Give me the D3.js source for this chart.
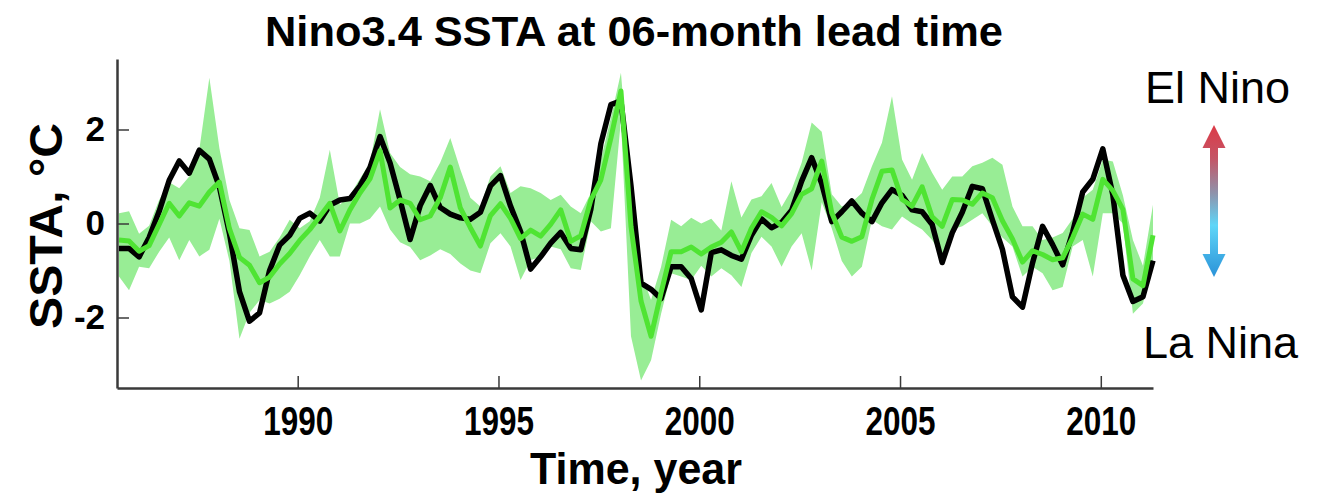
<!DOCTYPE html>
<html>
<head>
<meta charset="utf-8">
<script src="https://cdn.jsdelivr.net/npm/d3@7"></script>
<style>
  body { margin: 0; background: #fff; }
  svg { display: block; }
</style>
</head>
<body>
<svg id="chart" width="1324" height="500"></svg>
<script>
// Quarterly time stamps (decimal years)
const years = [
  1985.55, 1985.80, 1986.05, 1986.30, 1986.55, 1986.80, 1987.05, 1987.30,
  1987.55, 1987.80, 1988.05, 1988.30, 1988.55, 1988.80, 1989.05, 1989.30,
  1989.55, 1989.80, 1990.05, 1990.30, 1990.55, 1990.80, 1991.05, 1991.30,
  1991.55, 1991.80, 1992.05, 1992.30, 1992.55, 1992.80, 1993.05, 1993.30,
  1993.55, 1993.80, 1994.05, 1994.30, 1994.55, 1994.80, 1995.05, 1995.30,
  1995.55, 1995.80, 1996.05, 1996.30, 1996.55, 1996.80, 1997.05, 1997.30,
  1997.55, 1997.80, 1998.05, 1998.30, 1998.55, 1998.80, 1999.05, 1999.30,
  1999.55, 1999.80, 2000.05, 2000.30, 2000.55, 2000.80, 2001.05, 2001.30,
  2001.55, 2001.80, 2002.05, 2002.30, 2002.55, 2002.80, 2003.05, 2003.30,
  2003.55, 2003.80, 2004.05, 2004.30, 2004.55, 2004.80, 2005.05, 2005.30,
  2005.55, 2005.80, 2006.05, 2006.30, 2006.55, 2006.80, 2007.05, 2007.30,
  2007.55, 2007.80, 2008.05, 2008.30, 2008.55, 2008.80, 2009.05, 2009.30,
  2009.55, 2009.80, 2010.05, 2010.30, 2010.55, 2010.80, 2011.05, 2011.30
];

// Observed Nino3.4 SST anomaly (°C)
const observed = [
  -0.53, -0.53, -0.71, -0.30, 0.26, 0.92, 1.33, 1.07,
  1.56, 1.37, 0.78, -0.21, -1.45, -2.08, -1.90, -1.00,
  -0.46, -0.25, 0.11, 0.22, 0.05, 0.39, 0.50, 0.53,
  0.80, 1.19, 1.85, 1.29, 0.50, -0.34, 0.38, 0.81,
  0.34, 0.20, 0.12, 0.09, 0.24, 0.80, 1.02, 0.37,
  -0.17, -0.97, -0.71, -0.42, -0.19, -0.53, -0.56, 0.30,
  1.70, 2.53, 2.61, 0.80, -1.27, -1.40, -1.60, -0.92,
  -0.92, -1.17, -1.84, -0.62, -0.56, -0.68, -0.76, -0.25,
  0.10, -0.09, 0.02, 0.28, 0.90, 1.40, 0.85, 0.04,
  0.25, 0.48, 0.22, 0.04, 0.44, 0.72, 0.60, 0.29,
  0.25, -0.02, -0.83, -0.20, 0.24, 0.79, 0.74, 0.08,
  -0.55, -1.56, -1.78, -0.84, -0.06, -0.45, -0.88, -0.18,
  0.67, 0.94, 1.59, 0.61, -1.10, -1.66, -1.56, -0.79
];

// 6-month lead forecast: ensemble mean
const forecastMean = [
  -0.35, -0.37, -0.59, -0.47, -0.02, 0.43, 0.16, 0.44,
  0.37, 0.67, 0.88, -0.11, -0.72, -0.89, -1.26, -1.14,
  -0.86, -0.64, -0.36, -0.13, 0.15, 0.43, -0.16, 0.29,
  0.65, 0.95, 1.55, 0.33, 0.50, 0.43, 0.08, 0.16,
  0.55, 1.20, 0.33, -0.09, -0.48, 0.17, 0.42, 0.11,
  -0.32, -0.14, -0.27, -0.02, 0.29, -0.38, -0.26, 0.50,
  0.93, 1.82, 2.82, -0.06, -1.65, -2.40, -1.47, -0.60,
  -0.60, -0.50, -0.65, -0.50, -0.40, -0.18, -0.60, -0.10,
  0.25, 0.13, -0.05, 0.21, 0.62, 0.74, 1.33, 0.23,
  -0.29, -0.38, -0.28, 0.51, 1.11, 1.14, 0.51, 0.37,
  0.78, 0.14, -0.06, 0.51, 0.50, 0.41, 0.65, 0.55,
  0.06, -0.33, -0.82, -0.58, -0.66, -0.77, -0.73, -0.30,
  0.20, 0.09, 0.94, 0.70, 0.30, -1.18, -1.32, -0.25
];

// Ensemble spread: upper and lower envelope
const forecastUpper = [
  0.22, 0.26, -0.22, -0.05, 0.50, 0.88, 0.75, 1.00,
  1.57, 3.10, 1.60, 0.50, -0.10, -0.14, -0.70, -0.60,
  -0.30, 0.08, -0.10, 0.05, 0.55, 1.57, 0.40, 0.60,
  0.95, 1.30, 2.43, 1.50, 1.20, 1.05, 1.00, 0.90,
  1.30, 1.82, 1.15, 0.55, 0.36, 1.00, 1.22, 0.65,
  0.79, 0.75, 0.65, 0.50, 0.61, 0.36, 0.22, 0.65,
  1.36, 2.25, 3.21, 0.60, -1.06, -1.63, -0.92, 0.08,
  -0.06, 0.12, 0.00, 0.10, -0.15, 0.90, 0.13, 0.51,
  0.58, 0.86, 0.35, 0.72, 1.29, 2.15, 1.95, 0.62,
  0.36, 0.45, 0.65, 1.22, 1.72, 2.71, 1.36, 0.93,
  1.50, 1.08, 0.72, 1.00, 1.00, 1.22, 1.29, 1.40,
  1.25, 0.36, -0.06, -0.06, -0.35, -0.30, -0.20, 0.10,
  0.55, 0.72, 1.36, 1.32, 0.60, -0.35, -0.90, 0.40
];
const forecastLower = [
  -1.13, -1.42, -0.92, -0.95, -0.60, -0.30, -0.78, -0.35,
  -0.70, -0.56, 0.10, -0.80, -2.45, -1.90, -1.63, -1.70,
  -1.60, -1.45, -1.10, -0.70, -0.35, -0.70, -0.70, 0.00,
  0.00, 0.10, 0.36, -0.13, -0.40, -0.50, -0.78, -0.68,
  -0.55, -0.65, -0.85, -1.00, -1.06, -0.42, -0.21, -0.49,
  -1.20, -0.78, -0.70, -0.49, -0.55, -0.95, -0.99, 0.05,
  -0.17, -0.10, 2.20, -2.40, -3.34, -2.91, -1.92, -1.06,
  -1.13, -1.20, -0.90, -1.13, -0.95, -1.10, -1.35, -0.63,
  -0.28, -0.49, -0.92, -0.49, -0.21, -1.00, 0.45, -0.10,
  -0.80, -1.13, -0.92, 0.08, -0.06, -0.13, 0.15, 0.00,
  -0.13, -0.35, -0.70, -0.13, -0.06, 0.08, 0.22, -0.06,
  -0.30, -0.49, -1.13, -0.92, -1.06, -1.42, -1.35, -0.49,
  -0.35, -1.13, 0.22, 0.22, 0.00, -1.92, -1.70, -0.78
];

const yearTicks = [1990, 1995, 2000, 2005, 2010];
const sstaTicks = [-2, 0, 2];
const titleText = "Nino3.4 SSTA at 06-month lead time";
const xLabelText = "Time, year";
const yLabelText = "SSTA, \u00B0C";
const elNinoText = "El Nino";
const laNinaText = "La Nina";

const FONT = "'Liberation Sans', Arial, Helvetica, sans-serif";
const svg = d3.select("#chart");

const x = d3.scaleLinear().domain([1985.5, 2011.3]).range([117, 1153]);
const y = d3.scaleLinear().domain([-3.5, 3.5]).range([388, 59]);

const rows = years.map((t, i) => ({
  t, obs: observed[i], mean: forecastMean[i],
  hi: forecastUpper[i], lo: forecastLower[i]
}));

// Ensemble spread band
svg.append("path")
  .datum(rows)
  .attr("fill", "#98ed95")
  .attr("d", d3.area().x(d => x(d.t)).y0(d => y(d.lo)).y1(d => y(d.hi)));

// Observed series
svg.append("path")
  .datum(rows)
  .attr("fill", "none")
  .attr("stroke", "#000")
  .attr("stroke-width", 5.5)
  .attr("stroke-linejoin", "round")
  .attr("d", d3.line().x(d => x(d.t)).y(d => y(d.obs)));

// Forecast ensemble mean
svg.append("path")
  .datum(rows)
  .attr("fill", "none")
  .attr("stroke", "#4fe433")
  .attr("stroke-width", 5)
  .attr("stroke-linejoin", "round")
  .attr("d", d3.line().x(d => x(d.t)).y(d => y(d.mean)));

// Axes with inward ticks
const xAxis = svg.append("g")
  .attr("transform", `translate(0,${y.range()[0]})`)
  .call(d3.axisBottom(x).tickValues(yearTicks).tickFormat(d3.format("d"))
        .tickSizeInner(-12).tickSizeOuter(0).tickPadding(18));
const yAxis = svg.append("g")
  .attr("transform", `translate(${x.range()[0]},0)`)
  .call(d3.axisLeft(y).tickValues(sstaTicks).tickFormat(d3.format("d"))
        .tickSizeInner(-12).tickSizeOuter(0).tickPadding(12));

[xAxis, yAxis].forEach(g => {
  g.select(".domain").attr("stroke", "#3a3a3a").attr("stroke-width", 2.5);
  g.selectAll(".tick line").attr("stroke", "#3a3a3a").attr("stroke-width", 1.5);
  g.selectAll(".tick text")
    .attr("fill", "#000")
    .style("font-family", FONT)
    .style("font-weight", "bold");
});
xAxis.selectAll(".tick text")
  .style("font-size", "41px")
  .attr("textLength", 70).attr("lengthAdjust", "spacingAndGlyphs");
yAxis.selectAll(".tick text")
  .style("font-size", "35px")
  .text(d => d < 0 ? "-" + Math.abs(d) : d);

// Title and axis labels
svg.append("text")
  .attr("x", 634).attr("y", 46)
  .attr("text-anchor", "middle")
  .style("font-family", FONT).style("font-weight", "bold").style("font-size", "43px")
  .attr("textLength", 738).attr("lengthAdjust", "spacingAndGlyphs")
  .text(titleText);

svg.append("text")
  .attr("x", 636).attr("y", 484)
  .attr("text-anchor", "middle")
  .style("font-family", FONT).style("font-weight", "bold").style("font-size", "44px")
  .attr("textLength", 212).attr("lengthAdjust", "spacingAndGlyphs")
  .text(xLabelText);

svg.append("text")
  .attr("transform", "translate(62,226) rotate(-90)")
  .attr("text-anchor", "middle")
  .style("font-family", FONT).style("font-weight", "bold").style("font-size", "46px")
  .attr("textLength", 206).attr("lengthAdjust", "spacingAndGlyphs")
  .text(yLabelText);

// Phase annotation on the right
svg.append("text")
  .attr("x", 1145).attr("y", 103)
  .style("font-family", FONT).style("font-size", "45px")
  .text(elNinoText);
svg.append("text")
  .attr("x", 1143).attr("y", 358)
  .style("font-family", FONT).style("font-size", "45px")
  .text(laNinaText);

const grad = svg.append("defs").append("linearGradient")
  .attr("id", "phaseGrad").attr("x1", 0).attr("y1", 0).attr("x2", 0).attr("y2", 1);
[["0%", "#dc3a46"], ["22%", "#c45566"], ["45%", "#8e93ac"], ["66%", "#5fd6f8"], ["100%", "#2a92d8"]]
  .forEach(([o, c]) => grad.append("stop").attr("offset", o).attr("stop-color", c));

// Double-headed arrow
const arrowX = 1214, arrowTop = 125, arrowBottom = 277, headLen = 23, headHalf = 11.5, shaftHalf = 4;
svg.append("path")
  .attr("fill", "url(#phaseGrad)")
  .attr("d", `M${arrowX},${arrowTop} L${arrowX + headHalf},${arrowTop + headLen} L${arrowX + shaftHalf},${arrowTop + headLen}
              L${arrowX + shaftHalf},${arrowBottom - headLen} L${arrowX + headHalf},${arrowBottom - headLen} L${arrowX},${arrowBottom}
              L${arrowX - headHalf},${arrowBottom - headLen} L${arrowX - shaftHalf},${arrowBottom - headLen} L${arrowX - shaftHalf},${arrowTop + headLen}
              L${arrowX - headHalf},${arrowTop + headLen} Z`);
</script>
</body>
</html>
